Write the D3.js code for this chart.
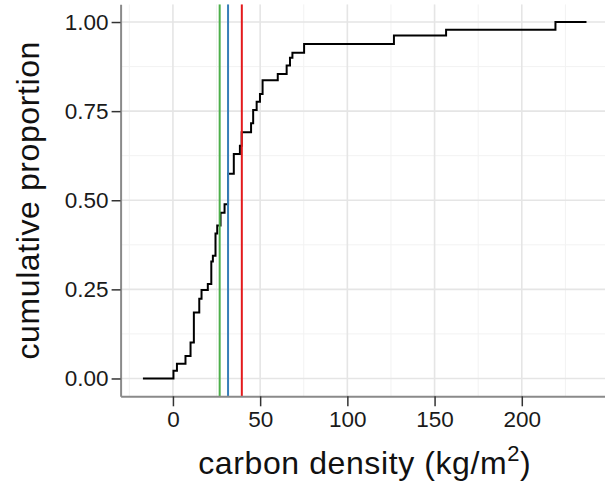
<!DOCTYPE html>
<html lang="en">
  <head>
    <meta charset="utf-8" />
    <title>ECDF carbon density</title>
    <script type="text/javascript" src="https://d3js.org/d3.v7.min.js" charset="utf-8"></script>
    <style type="text/css">
      body { margin: 0; background: #fff; }
      svg { display: block; font-family: "Liberation Sans", Arial, sans-serif; }
      .axis text { font-size: 22.5px; fill: #1a1a1a; }
      .axis .domain { stroke: #8a8a8a; stroke-width: 2px; }
      .axis .tick line { stroke: #333; stroke-width: 1.5px; }
      .grid-major { stroke: #e5e5e5; stroke-width: 1.6px; }
      .grid-minor { stroke: #f2f2f2; stroke-width: 1px; }
      .title { font-size: 32px; letter-spacing: 0.6px; fill: #111; }
    </style>
  </head>
  <body>
    <script type="text/javascript">
      // step points of the cumulative curve
      var densityBreaks = [-17.2, 0.3, 2.3, 7.2, 10.1, 12.0, 15.1, 16.4, 20.0, 22.0, 22.9, 24.4,
        25.4, 27.3, 29.6, 31.6, 34.9, 38.4, 39.4, 44.8, 46.0, 48.0, 49.9, 51.4, 60.1, 65.2,
        67.1, 68.5, 75.2, 126.7, 156.6, 219.3, 237.1];
      var cumProp = [0, 0.022, 0.041, 0.063, 0.101, 0.185, 0.224, 0.248, 0.265, 0.328, 0.344,
        0.407, 0.429, 0.465, 0.489, 0.574, 0.630, 0.653, 0.691, 0.716, 0.753, 0.776, 0.798,
        0.837, 0.854, 0.878, 0.900, 0.914, 0.938, 0.962, 0.978, 1.0, 1.0];

      // vertical reference lines
      var refValues = [26.8, 31.6, 39.5];
      var refColours = ["#4DAF4A", "#377EB8", "#E41A1C"];

      var xTicks = [0, 50, 100, 150, 200];
      var xMinor = [-25, 25, 75, 125, 175, 225];
      var yTicks = [0, 0.25, 0.5, 0.75, 1];
      var yMinor = [0.125, 0.375, 0.625, 0.875];

      var width = 605, height = 486;
      var panel = { left: 120.6, right: 609, top: 4.2, bottom: 396.3 };

      var svg = d3.select("body").append("svg")
        .attr("width", width)
        .attr("height", height);

      var x = d3.scaleLinear().domain([-30, 250]).range([panel.left, panel.right]);
      var y = d3.scaleLinear().domain([-0.05, 1.05]).range([panel.bottom, panel.top]);

      var data = densityBreaks.map(function (d, i) { return { x: d, y: cumProp[i] }; });

      svg.append("clipPath").attr("id", "clip")
        .append("rect")
        .attr("x", panel.left).attr("y", panel.top)
        .attr("width", panel.right - panel.left)
        .attr("height", panel.bottom - panel.top);

      var plot = svg.append("g").attr("clip-path", "url(#clip)");

      // grid
      plot.selectAll("line.vmin").data(xMinor).join("line")
        .attr("class", "grid-minor")
        .attr("x1", d => x(d)).attr("x2", d => x(d))
        .attr("y1", panel.top).attr("y2", panel.bottom);
      plot.selectAll("line.hmin").data(yMinor).join("line")
        .attr("class", "grid-minor")
        .attr("x1", panel.left).attr("x2", panel.right)
        .attr("y1", d => y(d)).attr("y2", d => y(d));
      plot.selectAll("line.vmaj").data(xTicks).join("line")
        .attr("class", "grid-major")
        .attr("x1", d => x(d)).attr("x2", d => x(d))
        .attr("y1", panel.top).attr("y2", panel.bottom);
      plot.selectAll("line.hmaj").data(yTicks).join("line")
        .attr("class", "grid-major")
        .attr("x1", panel.left).attr("x2", panel.right)
        .attr("y1", d => y(d)).attr("y2", d => y(d));

      // ecdf step line
      var line = d3.line()
        .x(d => x(d.x))
        .y(d => y(d.y))
        .curve(d3.curveStepAfter);

      plot.append("path")
        .datum(data)
        .attr("d", line)
        .attr("fill", "none")
        .attr("stroke", "#000")
        .attr("stroke-width", 2);

      // reference lines
      plot.selectAll("line.ref").data(refValues).join("line")
        .attr("x1", d => x(d)).attr("x2", d => x(d))
        .attr("y1", panel.top).attr("y2", panel.bottom)
        .attr("stroke", (d, i) => refColours[i])
        .attr("stroke-width", 2);

      // axes
      svg.append("g")
        .attr("class", "axis axis--x")
        .attr("transform", `translate(0,${panel.bottom})`)
        .call(d3.axisBottom(x).tickValues(xTicks).tickFormat(d3.format("d"))
          .tickSizeInner(10).tickSizeOuter(0).tickPadding(5));

      svg.append("g")
        .attr("class", "axis axis--y")
        .attr("transform", `translate(${panel.left},0)`)
        .call(d3.axisLeft(y).tickValues(yTicks).tickFormat(d3.format(".2f"))
          .tickSizeInner(9).tickSizeOuter(0).tickPadding(3));

      // titles
      var xt = svg.append("text")
        .attr("class", "title")
        .attr("x", (panel.left + panel.right) / 2)
        .attr("y", 474)
        .attr("text-anchor", "middle")
        .text("carbon density (kg/m");
      xt.append("tspan").attr("dy", -13).style("font-size", "22px").text("2");
      xt.append("tspan").attr("dy", 13).text(")");

      svg.append("text")
        .attr("class", "title")
        .attr("transform", `translate(39,${(panel.top + panel.bottom) / 2}) rotate(-90)`)
        .attr("text-anchor", "middle")
        .text("cumulative proportion");
    </script>
  </body>
</html>
